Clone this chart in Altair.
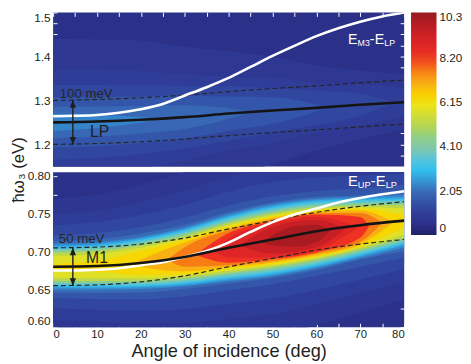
import altair as alt
import pandas as pd

FONT = "Liberation Sans"
TXT = "#231f20"

# ---------------- data ----------------
# Filled-contour levels of the bottom panel (intensity, colour-bar units).
# For each level: angles where the contour is sampled, and its lower / upper
# photon-energy boundary (eV) at those angles.
bottom_levels = [0.6, 0.85, 1.1, 1.4, 1.8, 2.2, 2.6, 3.0, 3.5, 4.1, 4.8, 5.5, 6.1,
                 6.7, 7.3, 7.9, 8.5, 9.1, 9.7]
bottom_fill = [0.725, 0.975, 1.25, 1.6, 2.0, 2.4, 2.8, 3.25, 3.8, 4.45, 5.15, 5.8, 6.4,
               7.0, 7.6, 8.2, 8.8, 9.4, 10.0]
A9 = [0, 10, 20, 30, 40, 50, 60, 70, 80]
bottom_contour_angles = [A9] * 13 + [
    [18, 20, 30, 40, 50, 60, 70, 77.5],
    [26, 30, 40, 50, 60, 70, 75],
    [32.5, 40, 50, 60, 70, 72],
    [36.5, 40, 50, 60, 69.5],
    [42.5, 50, 60, 66.5],
    [47.5, 50, 55, 60, 63],
]
bottom_contour_low = [
    [0.5900, 0.5865, 0.5815, 0.5805, 0.5835, 0.5890, 0.6025, 0.6195, 0.6365],
    [0.6100, 0.6075, 0.6045, 0.6055, 0.6105, 0.6170, 0.6295, 0.6445, 0.6595],
    [0.6250, 0.6232, 0.6217, 0.6242, 0.6307, 0.6380, 0.6497, 0.6632, 0.6767],
    [0.6385, 0.6374, 0.6373, 0.6411, 0.6490, 0.6569, 0.6680, 0.6801, 0.6923],
    [0.6460, 0.6453, 0.6459, 0.6505, 0.6577, 0.6650, 0.6754, 0.6895, 0.7009],
    [0.6500, 0.6495, 0.6505, 0.6542, 0.6607, 0.6674, 0.6781, 0.6914, 0.7055],
    [0.6525, 0.6521, 0.6528, 0.6560, 0.6631, 0.6695, 0.6799, 0.6939, 0.7084],
    [0.6546, 0.6541, 0.6545, 0.6580, 0.6650, 0.6716, 0.6820, 0.6954, 0.7106],
    [0.6565, 0.6561, 0.6567, 0.6602, 0.6672, 0.6740, 0.6842, 0.6979, 0.7127],
    [0.6587, 0.6584, 0.6589, 0.6625, 0.6699, 0.6766, 0.6867, 0.7004, 0.7153],
    [0.6615, 0.6612, 0.6615, 0.6652, 0.6722, 0.6794, 0.6894, 0.7029, 0.7183],
    [0.6655, 0.6650, 0.6649, 0.6677, 0.6749, 0.6818, 0.6916, 0.7052, 0.7225],
    [0.6760, 0.6736, 0.6691, 0.6705, 0.6769, 0.6836, 0.6935, 0.7072, 0.7319],
    [0.6845, 0.6804, 0.6739, 0.6793, 0.6856, 0.6952, 0.7097, 0.7385],
    [0.6895, 0.6801, 0.6818, 0.6876, 0.6971, 0.7129, 0.7380],
    [0.6960, 0.6854, 0.6901, 0.6990, 0.7182, 0.7335],
    [0.7010, 0.6922, 0.6926, 0.7019, 0.7320],
    [0.7080, 0.6975, 0.7058, 0.7300],
    [0.7120, 0.7080, 0.7063, 0.7125, 0.7270],
]
bottom_contour_high = [
    [0.7700, 0.7755, 0.7885, 0.8055, 0.8265, 0.8410, 0.8455, 0.8445, 0.8435],
    [0.7500, 0.7545, 0.7655, 0.7805, 0.7995, 0.8130, 0.8185, 0.8195, 0.8205],
    [0.7350, 0.7388, 0.7483, 0.7618, 0.7793, 0.7920, 0.7983, 0.8008, 0.8033],
    [0.7215, 0.7246, 0.7327, 0.7449, 0.7610, 0.7731, 0.7800, 0.7839, 0.7877],
    [0.7140, 0.7167, 0.7241, 0.7355, 0.7523, 0.7650, 0.7726, 0.7745, 0.7791],
    [0.7100, 0.7125, 0.7195, 0.7318, 0.7493, 0.7626, 0.7699, 0.7726, 0.7745],
    [0.7075, 0.7099, 0.7172, 0.7300, 0.7469, 0.7605, 0.7681, 0.7701, 0.7716],
    [0.7054, 0.7079, 0.7155, 0.7280, 0.7450, 0.7584, 0.7660, 0.7686, 0.7694],
    [0.7035, 0.7059, 0.7133, 0.7258, 0.7428, 0.7560, 0.7638, 0.7661, 0.7673],
    [0.7013, 0.7036, 0.7111, 0.7235, 0.7401, 0.7534, 0.7613, 0.7636, 0.7647],
    [0.6985, 0.7008, 0.7085, 0.7208, 0.7378, 0.7506, 0.7586, 0.7611, 0.7617],
    [0.6945, 0.6970, 0.7051, 0.7183, 0.7351, 0.7482, 0.7564, 0.7588, 0.7575],
    [0.6840, 0.6884, 0.7009, 0.7155, 0.7331, 0.7464, 0.7545, 0.7568, 0.7481],
    [0.6845, 0.6896, 0.7121, 0.7307, 0.7444, 0.7528, 0.7543, 0.7385],
    [0.6895, 0.7059, 0.7282, 0.7424, 0.7509, 0.7511, 0.7380],
    [0.6960, 0.7246, 0.7399, 0.7490, 0.7458, 0.7335],
    [0.7010, 0.7178, 0.7374, 0.7461, 0.7320],
    [0.7080, 0.7325, 0.7422, 0.7300],
    [0.7120, 0.7220, 0.7337, 0.7355, 0.7270],
]

# Filled-contour levels of the top panel
top_levels = [0.6, 0.85, 1.1, 1.4, 1.8, 2.2]
top_fill = [0.75, 1.0, 1.25, 1.6, 1.95, 2.3]
top_contour_angles = [
    A9, A9,
    [0, 10, 20, 30, 40, 50, 60, 70, 77.5],
    [0, 10, 20, 30, 40, 50, 60, 62],
    [0, 10, 20, 30, 40, 45],
    [0, 10, 20, 24],
]
top_contour_low = [
    [1.060, 1.065, 1.076, 1.102, 1.128, 1.155, 1.186, 1.212, 1.233],
    [1.128, 1.133, 1.145, 1.164, 1.186, 1.202, 1.226, 1.243, 1.263],
    [1.165, 1.169, 1.178, 1.191, 1.208, 1.227, 1.244, 1.265, 1.2945],
    [1.193, 1.196, 1.203, 1.214, 1.231, 1.247, 1.276, 1.284],
    [1.214, 1.218, 1.225, 1.235, 1.258, 1.2735],
    [1.230, 1.237, 1.250, 1.258],
]
top_contour_high = [
    [1.440, 1.439, 1.436, 1.422, 1.412, 1.399, 1.380, 1.368, 1.359],
    [1.372, 1.371, 1.367, 1.360, 1.354, 1.352, 1.340, 1.337, 1.329],
    [1.335, 1.335, 1.334, 1.333, 1.332, 1.327, 1.322, 1.315, 1.2945],
    [1.307, 1.308, 1.309, 1.310, 1.309, 1.307, 1.290, 1.284],
    [1.286, 1.286, 1.287, 1.289, 1.282, 1.2735],
    [1.270, 1.267, 1.262, 1.258],
]

# lines
line_angles = [0, 10, 20, 30, 40, 50, 60, 70, 80]
lp = [1.250, 1.252, 1.256, 1.262, 1.270, 1.277, 1.283, 1.290, 1.296]
lp_upper = [1.300, 1.302, 1.306, 1.312, 1.320, 1.327, 1.333, 1.340, 1.346]
lp_lower = [1.200, 1.202, 1.206, 1.212, 1.220, 1.227, 1.233, 1.240, 1.246]
m1 = [0.680, 0.681, 0.685, 0.693, 0.705, 0.716, 0.727, 0.735, 0.741]
m1_upper = [0.705, 0.706, 0.710, 0.718, 0.730, 0.741, 0.752, 0.760, 0.766]
m1_lower = [0.655, 0.656, 0.660, 0.668, 0.680, 0.691, 0.702, 0.710, 0.716]

white_angles = [0, 5, 10, 15, 20, 25, 30, 35, 40, 45, 50, 55, 60, 65, 70, 75, 80]
em3_minus_elp = [1.264, 1.265, 1.267, 1.272, 1.280, 1.292, 1.311, 1.330, 1.351,
                 1.376, 1.401, 1.424, 1.446, 1.464, 1.479, 1.491, 1.500]
eup_minus_elp = [0.675, 0.675, 0.676, 0.678, 0.682, 0.686, 0.693, 0.701, 0.712,
                 0.726, 0.739, 0.749, 0.757, 0.765, 0.771, 0.776, 0.780]

# colour bar
color_stops = [0, 0.5, 1.0, 1.5, 2.05, 2.6, 3.0, 3.6, 4.1, 5.1, 6.15, 7.2, 8.2, 9.2, 10.3]
color_values = ["#1f2266", "#2c318a", "#2f3d98", "#3351a6", "#3a6cb9", "#389ed9",
                "#31bfee", "#5fc6d6", "#8cc5a6", "#bcd54a", "#f4e600", "#f8a31c",
                "#ee3124", "#d31f27", "#981b1e"]
colorbar_ticks = [0, 2.05, 4.1, 6.15, 8.2, 10.3]
BACKGROUND = "#2b3088"

# axis ticks
x_ticks = [0, 5, 10, 15, 20, 25, 30, 35, 40, 45, 50, 55, 60, 65, 70, 75, 80]
top_y_ticks = [1.175, 1.2, 1.225, 1.25, 1.275, 1.3, 1.325, 1.35, 1.375, 1.4, 1.425, 1.45, 1.475, 1.5]
bottom_y_ticks = [0.6, 0.625, 0.65, 0.675, 0.7, 0.725, 0.75, 0.775, 0.8]

# ---------------- tables ----------------
top_lines_df = pd.DataFrame({"a": line_angles, "mid": lp, "up": lp_upper, "lo": lp_lower})
bottom_lines_df = pd.DataFrame({"a": line_angles, "mid": m1, "up": m1_upper, "lo": m1_lower})
top_white_df = pd.DataFrame({"a": white_angles, "w": em3_minus_elp})
bottom_white_df = pd.DataFrame({"a": white_angles, "w": eup_minus_elp})

W = 358
H_TOP = 157
H_BOT = 158

xs = alt.Scale(domain=[0, 80], nice=False, zero=False)
ys_top = alt.Scale(domain=[1.15, 1.5], nice=False, zero=False)
ys_bot = alt.Scale(domain=[0.6, 0.805], nice=False, zero=False)
cscale = alt.Scale(domain=color_stops, range=color_values, clamp=True)

legend = alt.Legend(
    type="gradient", title=None, orient="right", offset=6, direction="vertical",
    gradientLength=227, gradientThickness=26, gradientStrokeWidth=0,
    values=colorbar_ticks,
    labelExpr="datum.value == 0 ? '0' : (datum.value > 10 ? format(datum.value, '.1f') : format(datum.value, '.2f'))",
    labelFontSize=12, labelFont=FONT, labelColor=TXT, labelOffset=3,
)

tick_style = dict(tickSize=4, offset=-4, tickColor="white", tickWidth=1,
                  domain=False, grid=False)


def contour_layers(levels, fills, angle_lists, lows, highs, ys, x_axis, y_axis):
    out = []
    for i, (lev, f, aa, lo, hi) in enumerate(zip(levels, fills, angle_lists, lows, highs)):
        df = pd.DataFrame({"a": aa, "lo": lo, "hi": hi, "f": [f] * len(aa)})
        out.append(alt.Chart(df).mark_area(clip=True, interpolate="monotone").encode(
            x=alt.X("a:Q", scale=xs, axis=x_axis if i == 0 else None),
            y=alt.Y("lo:Q", scale=ys, axis=y_axis if i == 0 else None),
            y2="hi:Q",
            color=alt.Color("f:Q", scale=cscale, legend=legend),
        ))
    return out


def line_layer(df, field, ys, color, width, dash=None, y_axis=None):
    kw = dict(color=color, strokeWidth=width, clip=True, interpolate="monotone")
    if dash:
        kw["strokeDash"] = dash
    return alt.Chart(df).mark_line(**kw).encode(
        x=alt.X("a:Q", scale=xs, axis=None),
        y=alt.Y(field + ":Q", scale=ys, axis=y_axis),
    )


UP_HEAD = "M0,0 L0.42,1 L-0.42,1 Z"
DOWN_HEAD = "M0,0 L0.42,-1 L-0.42,-1 Z"


def arrow_layers(a, e_lo, e_hi, ys):
    df = pd.DataFrame({"a": [a], "lo": [e_lo], "hi": [e_hi]})
    base = alt.Chart(df)
    shaft = base.mark_rule(color="#1e1e1e", strokeWidth=1.4).encode(
        x=alt.X("a:Q", scale=xs, axis=None),
        y=alt.Y("lo:Q", scale=ys, axis=None), y2="hi:Q")
    top = base.mark_point(shape=UP_HEAD, filled=True, size=230, color="#1e1e1e",
                          opacity=1, strokeWidth=0).encode(
        x=alt.X("a:Q", scale=xs, axis=None), y=alt.Y("hi:Q", scale=ys, axis=None))
    bot = base.mark_point(shape=DOWN_HEAD, filled=True, size=230, color="#1e1e1e",
                          opacity=1, strokeWidth=0).encode(
        x=alt.X("a:Q", scale=xs, axis=None), y=alt.Y("lo:Q", scale=ys, axis=None))
    return [shaft, top, bot]


def label(text, a, e, ys, size, color, dx=0, dy=0, align="left", baseline="middle"):
    df = pd.DataFrame({"a": [a], "e": [e], "t": [text]})
    return alt.Chart(df).mark_text(align=align, baseline=baseline, dx=dx, dy=dy,
                                   fontSize=size, color=color, font=FONT).encode(
        x=alt.X("a:Q", scale=xs, axis=None),
        y=alt.Y("e:Q", scale=ys, axis=None),
        text="t:N",
    )


def sub_label(a, e, ys, parts):
    return [label(t, a, e, ys, s, "white", dx=dx, dy=dy, baseline="alphabetic")
            for t, s, dx, dy in parts]


# ---------------- top panel ----------------
top_x_axis = alt.Axis(orient="top", values=x_ticks, labels=False, title=None, **tick_style)
top_left_axis = alt.Axis(
    orient="left", values=top_y_ticks, labelFlush=True, labelPadding=3,
    labelExpr="abs(datum.value*10 - round(datum.value*10)) < 0.001 ? format(datum.value, '.1f') : ''",
    labelFontSize=12, labelFont=FONT, labelColor=TXT,
    title="ħω₃ (eV)", titleFont=FONT, titleFontSize=17, titleFontWeight="normal",
    titleColor=TXT, titleAngle=270, titleAlign="center", titleBaseline="middle",
    titleX=-39, titleY=160, **tick_style)
top_right_axis = alt.Axis(orient="right", values=top_y_ticks, labels=False, title=None, **tick_style)

top_layers = contour_layers(top_levels, top_fill, top_contour_angles, top_contour_low,
                            top_contour_high, ys_top, top_x_axis, top_left_axis) + [
    line_layer(top_lines_df, "up", ys_top, "#262626", 1.2, dash=[5, 3]),
    line_layer(top_lines_df, "lo", ys_top, "#262626", 1.2, dash=[5, 3]),
    line_layer(top_white_df, "w", ys_top, "white", 2.6),
    line_layer(top_lines_df, "mid", ys_top, "#141414", 2.6, y_axis=top_right_axis),
] + arrow_layers(4.5, 1.2, 1.3, ys_top) + [
    label("100 meV", 1.5, 1.3155, ys_top, 13.5, "#262626"),
    label("LP", 10.6, 1.2268, ys_top, 16, "#1e1e1e", align="center"),
] + sub_label(67.2, 1.429, ys_top, [
    ("E", 14.5, 0, 0), ("M3", 9, 9.8, 2), ("-", 14.5, 22.3, 0),
    ("E", 14.5, 27.2, 0), ("LP", 9, 37, 2)])

top_chart = alt.layer(*top_layers).resolve_axis(x="independent", y="independent").properties(
    width=W, height=H_TOP)

# ---------------- bottom panel ----------------
bot_x_axis = alt.Axis(
    orient="bottom", values=x_ticks, labelFlush=True, labelPadding=2,
    labelExpr="datum.value % 10 == 0 ? datum.label : ''",
    labelFontSize=11.5, labelFont=FONT, labelColor=TXT,
    title="Angle of incidence (deg)", titleFont=FONT, titleFontSize=18.5,
    titleFontWeight="normal", titleColor=TXT, titlePadding=1, **tick_style)
bot_left_axis = alt.Axis(
    orient="left", values=bottom_y_ticks, labelFlush=True, labelPadding=3,
    labelExpr="abs(datum.value*20 - round(datum.value*20)) < 0.001 ? format(datum.value, '.2f') : ''",
    labelFontSize=12, labelFont=FONT, labelColor=TXT, title=None, **tick_style)
bot_right_axis = alt.Axis(orient="right", values=bottom_y_ticks, labels=False, title=None, **tick_style)

bottom_layers = contour_layers(bottom_levels, bottom_fill, bottom_contour_angles,
                               bottom_contour_low, bottom_contour_high, ys_bot,
                               bot_x_axis, bot_left_axis) + [
    line_layer(bottom_lines_df, "up", ys_bot, "#262626", 1.2, dash=[5, 3]),
    line_layer(bottom_lines_df, "lo", ys_bot, "#262626", 1.2, dash=[5, 3]),
    line_layer(bottom_white_df, "w", ys_bot, "white", 2.6),
    line_layer(bottom_lines_df, "mid", ys_bot, "#141414", 2.6, y_axis=bot_right_axis),
] + arrow_layers(4.5, 0.655, 0.705, ys_bot) + [
    label("50 meV", 1.3, 0.717, ys_bot, 13.5, "#262626"),
    label("M1", 10.0, 0.6914, ys_bot, 16, "#1e1e1e", align="center"),
] + sub_label(67.2, 0.7863, ys_bot, [
    ("E", 15, 0, 0), ("UP", 9.5, 10, 2), ("-", 15, 23.3, 0),
    ("E", 15, 28.3, 0), ("LP", 9.5, 38.4, 2)])

bottom_chart = alt.layer(*bottom_layers).resolve_axis(x="independent", y="independent").properties(
    width=W, height=H_BOT)

chart = alt.vconcat(top_chart, bottom_chart, spacing=6, bounds="flush").properties(
    padding={"left": 2, "top": 0, "right": 0, "bottom": 0},
    background="white",
).configure_view(stroke=None, fill=BACKGROUND)

chart.save("out.html", embed_options={"renderer": "svg", "actions": False})
